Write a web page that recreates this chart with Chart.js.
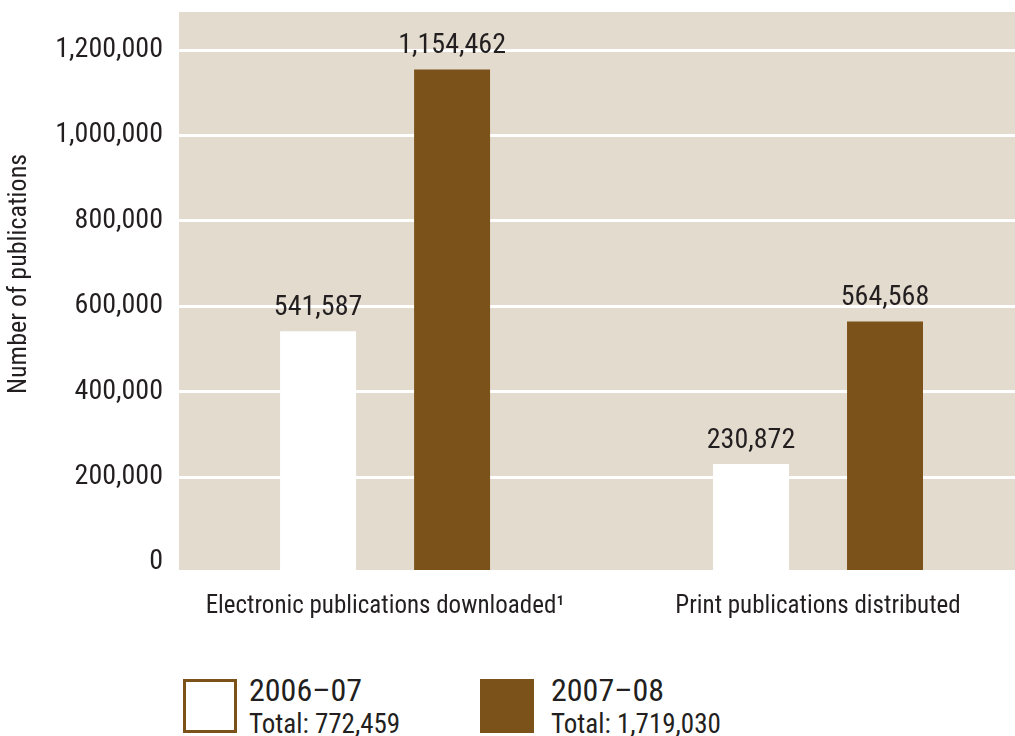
<!DOCTYPE html>
<html>
<head>
<meta charset="utf-8">
<title>Publications downloaded and distributed</title>
<script src="https://cdn.jsdelivr.net/npm/chart.js@4.4.1/dist/chart.umd.min.js"></script>
<style>
  html, body { margin: 0; padding: 0; background: #fff; overflow: hidden; }
  body { width: 1015px; height: 736px; position: relative; font-family: "Roboto Condensed", Roboto, sans-serif; color: #231f20; }
  #wrap { position: absolute; left: 0; top: 0; width: 1015px; height: 640px; }
  .key { position: absolute; top: 679px; width: 54px; height: 54px; box-sizing: border-box; }
  .key.y1 { left: 183px; border: 3px solid #7b5219; background: #fff; }
  .key.y2 { left: 480px; background: #7b5219; }
  .lbl { position: absolute; line-height: 1; white-space: nowrap; }
  .lbl .yr { font-size: 32px; display: block; }
  .lbl .tot { font-size: 27px; display: block; margin-top: 5px; }
</style>
</head>
<body>
<div id="wrap"><canvas id="pubChart"></canvas></div>

<div class="key y1"></div>
<div class="lbl" style="left:249px; top:674px;"><span class="yr">2006–07</span><span class="tot">Total: 772,459</span></div>
<div class="key y2"></div>
<div class="lbl" style="left:551px; top:674px;"><span class="yr">2007–08</span><span class="tot">Total: 1,719,030</span></div>

<script>
// categories, series and axis ticks
const categories = ['Electronic publications downloaded¹', 'Print publications distributed'];
const seriesNames = ['2006–07', '2007–08'];
const values0607 = [541587, 230872];
const values0708 = [1154462, 564568];
const yTicks = [0, 200000, 400000, 600000, 800000, 1000000, 1200000];

const FONT = '"Roboto Condensed", Roboto, sans-serif';
const INK = '#231f20';
const BROWN = '#7b5219';
const PLOT_BG = '#e3dbce';
const Y_MIN = -17600;
const Y_MAX = 1289000;
// categories sit at x = 0 and 1 on a linear axis, so the panel edges can be set freely
const X_MIN = -0.476;
const X_MAX = 1.455;

const toPoints = vals => vals.map((v, i) => ({ x: i, y: v }));

// beige panel behind the bars
const plotBackground = {
  id: 'plotBackground',
  beforeDraw(chart) {
    const { ctx, chartArea: a } = chart;
    ctx.save();
    ctx.fillStyle = PLOT_BG;
    ctx.fillRect(a.left, a.top, a.right - a.left, a.bottom - a.top);
    ctx.restore();
  }
};

// value printed above each bar
const barValues = {
  id: 'barValues',
  afterDatasetsDraw(chart) {
    const ctx = chart.ctx;
    ctx.save();
    ctx.font = '28px ' + FONT;
    ctx.fillStyle = INK;
    ctx.textAlign = 'center';
    ctx.textBaseline = 'alphabetic';
    chart.data.datasets.forEach((ds, i) => {
      chart.getDatasetMeta(i).data.forEach((bar, j) => {
        ctx.fillText(ds.data[j].y.toLocaleString('en-US'), bar.x, bar.y - 16);
      });
    });
    ctx.restore();
  }
};

// rotated axis title
const yTitle = {
  id: 'yTitle',
  afterDraw(chart) {
    const ctx = chart.ctx;
    ctx.save();
    ctx.translate(19, 274);
    ctx.rotate(-Math.PI / 2);
    ctx.font = '26px ' + FONT;
    ctx.fillStyle = INK;
    ctx.textAlign = 'center';
    ctx.textBaseline = 'middle';
    ctx.fillText('Number of publications', 0, 0);
    ctx.restore();
  }
};

// no extra room for overhanging tick labels
function noLabelPadding(scale) {
  scale.paddingTop = 0;
  scale.paddingBottom = 0;
  scale.paddingLeft = 0;
  scale.paddingRight = 0;
}

new Chart(document.getElementById('pubChart'), {
  type: 'bar',
  data: {
    datasets: [
      {
        label: seriesNames[0],
        data: toPoints(values0607),
        backgroundColor: '#ffffff',
        base: Y_MIN,
        categoryPercentage: 0.619,
        barPercentage: 0.567
      },
      {
        label: seriesNames[1],
        data: toPoints(values0708),
        backgroundColor: BROWN,
        base: Y_MIN,
        categoryPercentage: 0.619,
        barPercentage: 0.567
      }
    ]
  },
  options: {
    responsive: true,
    maintainAspectRatio: false,
    animation: false,
    layout: { padding: { top: 12, right: 0, bottom: 0, left: 0 } },
    plugins: {
      legend: { display: false },
      tooltip: { enabled: false }
    },
    scales: {
      x: {
        type: 'linear',
        min: X_MIN,
        max: X_MAX,
        offset: false,
        afterBuildTicks(scale) { scale.ticks = categories.map((c, i) => ({ value: i })); },
        grid: { display: false, drawTicks: false },
        border: { display: false },
        ticks: {
          color: INK,
          font: { family: FONT, size: 25 },
          padding: 22,
          maxRotation: 0,
          autoSkip: false,
          callback: (v, i) => categories[i]
        },
        afterFit(scale) { noLabelPadding(scale); scale.height = 70; }
      },
      y: {
        min: Y_MIN,
        max: Y_MAX,
        afterBuildTicks(scale) { scale.ticks = yTicks.map(v => ({ value: v })); },
        grid: {
          color: ctx => (ctx.tick && ctx.tick.value === 0 ? 'rgba(0,0,0,0)' : '#ffffff'),
          lineWidth: 3,
          drawTicks: false
        },
        border: { display: false },
        ticks: {
          color: INK,
          font: { family: FONT, size: 28 },
          padding: 16,
          callback: v => v.toLocaleString('en-US')
        },
        afterFit(scale) { noLabelPadding(scale); scale.width = 179; }
      }
    }
  },
  plugins: [plotBackground, barValues, yTitle]
});
</script>
</body>
</html>
